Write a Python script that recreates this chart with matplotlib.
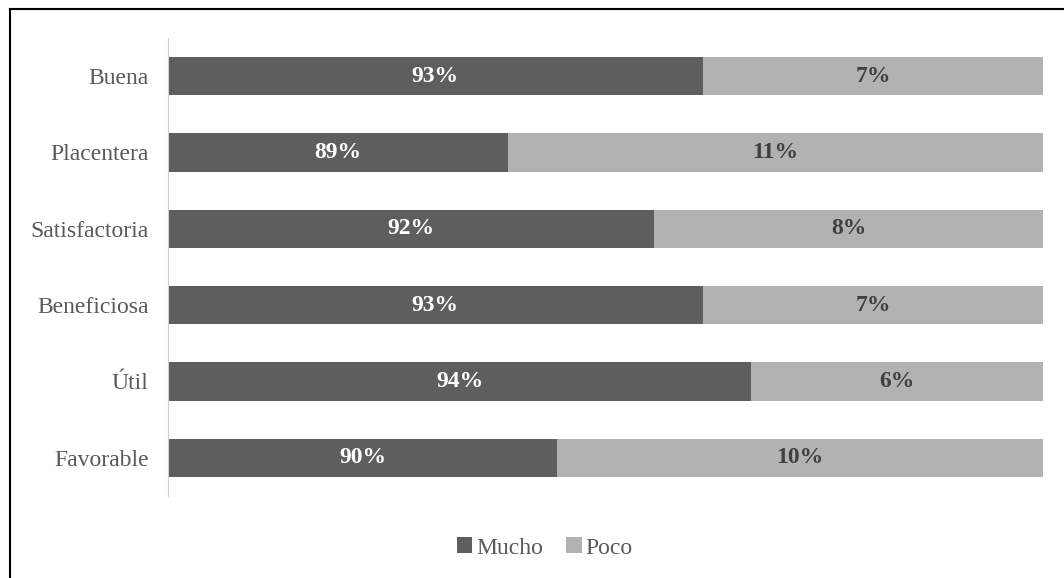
import matplotlib.pyplot as plt
from matplotlib.lines import Line2D

categories = ['Buena', 'Placentera', 'Satisfactoria', 'Beneficiosa', 'Útil', 'Favorable']
mucho = [93, 89, 92, 93, 94, 90]
poco = [7, 11, 8, 7, 6, 10]

plt.rcParams['font.family'] = ['Liberation Serif', 'DejaVu Serif']

dark = '#5e5e5e'
light = '#b2b2b2'

fig = plt.figure(figsize=(10.64, 5.78), dpi=100)
ax = fig.add_axes([0.1579, 0.1419, 0.8224, 0.7924])

y = list(range(len(categories)))[::-1]
ax.barh(y, mucho, height=0.5, color=dark, label='Mucho')
ax.barh(y, poco, left=mucho, height=0.5, color=light, label='Poco')

xmin = 82
ax.set_xlim(xmin, 100)
ax.set_ylim(-0.5, len(categories) - 0.5)

for yi, m, p in zip(y, mucho, poco):
    ax.text((xmin + m) / 2, yi, f'{m}%', ha='center', va='center',
            color='white', fontsize=17, fontweight='bold')
    ax.text(m + p / 2, yi, f'{p}%', ha='center', va='center',
            color='#404040', fontsize=17, fontweight='bold')

ax.set_yticks(y)
ax.set_yticklabels(categories, fontsize=17, color='#595959')
ax.tick_params(axis='y', length=0, pad=14)
ax.set_xticks([])
for s in ['top', 'right', 'bottom']:
    ax.spines[s].set_visible(False)
ax.spines['left'].set_color('#d0d0d0')

fig.legend(loc='center', bbox_to_anchor=(0.512, 0.052), ncol=2, frameon=False,
           fontsize=17, handlelength=0.65, handleheight=0.65, handletextpad=0.15,
           columnspacing=1.0, labelcolor='#595959')

# frame on the left and top only
fig.add_artist(Line2D([9.5 / 1064, 9.5 / 1064], [0, 1 - 8.5 / 578],
                      transform=fig.transFigure, color='black', linewidth=1.5))
fig.add_artist(Line2D([9.5 / 1064, 1], [1 - 8.5 / 578, 1 - 8.5 / 578],
                      transform=fig.transFigure, color='black', linewidth=1.5))

fig.savefig('out.png', dpi=100)
